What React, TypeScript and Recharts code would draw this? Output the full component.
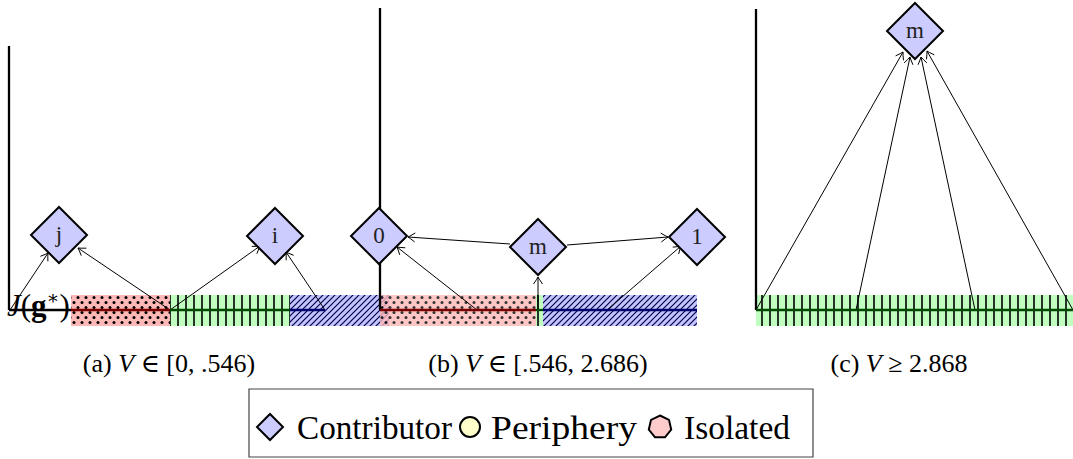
import React from 'react';
import { ComposedChart, XAxis, YAxis, Scatter, ReferenceArea, ReferenceLine } from 'recharts';

const W = 1073;
const H = 459;
const SERIF = '"Liberation Serif", "DejaVu Serif", serif';

// Diagram coordinate space (x: 0..1073, y: 0..459 downwards)
const stripTop = 295;
const stripBottom = 326;

const stripBands = [
  { id: 'a-hatch', x1: 290, x2: 389, pattern: 'hatch', opacity: 1 },
  { id: 'a-dots', x1: 71, x2: 170, pattern: 'dots', opacity: 1 },
  { id: 'a-vlines', x1: 170, x2: 290, pattern: 'vlines', opacity: 1 },
  { id: 'b-dots', x1: 380, x2: 536, pattern: 'dots', opacity: 0.8 },
  { id: 'b-vlines', x1: 536, x2: 543, pattern: 'vlines', opacity: 1 },
  { id: 'b-hatch', x1: 543, x2: 697, pattern: 'hatch', opacity: 1 },
  { id: 'c-vlines', x1: 756, x2: 1073, pattern: 'vlines', opacity: 1 },
];

const axisSegments = [
  { x1: 9, y1: 46, x2: 9, y2: 310, color: '#000000' },
  { x1: 9, y1: 310, x2: 71, y2: 310, color: '#000000' },
  { x1: 71, y1: 310, x2: 170, y2: 310, color: '#7a0000' },
  { x1: 170, y1: 310, x2: 290, y2: 310, color: '#004a00' },
  { x1: 290, y1: 310, x2: 325, y2: 310, color: '#00006e' },
  { x1: 380, y1: 8, x2: 380, y2: 310, color: '#000000' },
  { x1: 380, y1: 310, x2: 536, y2: 310, color: '#7a0000' },
  { x1: 536, y1: 310, x2: 543, y2: 310, color: '#004a00' },
  { x1: 543, y1: 310, x2: 697, y2: 310, color: '#00006e' },
  { x1: 756, y1: 9, x2: 756, y2: 310, color: '#000000' },
  { x1: 756, y1: 310, x2: 1073, y2: 310, color: '#004a00' },
];

const arrows = [
  { x1: 10, y1: 310, x2: 48, y2: 253 },
  { x1: 170, y1: 310, x2: 78, y2: 248 },
  { x1: 170, y1: 310, x2: 260, y2: 246 },
  { x1: 325, y1: 310, x2: 286, y2: 252 },
  { x1: 510, y1: 244, x2: 408, y2: 237 },
  { x1: 567, y1: 245, x2: 668, y2: 237 },
  { x1: 477, y1: 310, x2: 397, y2: 247 },
  { x1: 538, y1: 310, x2: 538, y2: 277 },
  { x1: 607, y1: 310, x2: 681, y2: 246 },
  { x1: 756, y1: 310, x2: 903, y2: 52 },
  { x1: 856, y1: 310, x2: 910, y2: 57 },
  { x1: 975, y1: 310, x2: 921, y2: 57 },
  { x1: 1073, y1: 310, x2: 927, y2: 51 },
];

const nodes = [
  { x: 59, y: 235, label: 'j' },
  { x: 275, y: 236, label: 'i' },
  { x: 379, y: 236, label: '0' },
  { x: 538, y: 247, label: 'm' },
  { x: 697, y: 237, label: '1' },
  { x: 915, y: 31, label: 'm' },
];

const captions = [
  { x: 169, y: 372, pre: '(a) ', v: 'V', post: ' ∈ [0, .546)' },
  { x: 538, y: 372, pre: '(b) ', v: 'V', post: ' ∈ [.546, 2.686)' },
  { x: 899, y: 372, pre: '(c) ', v: 'V', post: ' ≥ 2.868' },
];

const axisLabel = [{ x: 7, y: 316 }];

const legendBox = { x1: 249, x2: 813, y1: 389, y2: 457 };
const legendItems = [
  { x: 270, y: 427, marker: 'diamond', fill: '#ccccff', text: 'Contributor', tx: 297, tw: 155 },
  { x: 470, y: 427, marker: 'circle', fill: '#ffffcc', text: 'Periphery', tx: 491, tw: 146 },
  { x: 660, y: 427, marker: 'heptagon', fill: '#ffcccc', text: 'Isolated', tx: 684, tw: 106 },
];

const ArrowShape = (p: any) => {
  const { x1, y1, x2, y2 } = p;
  const dx = x2 - x1;
  const dy = y2 - y1;
  const len = Math.sqrt(dx * dx + dy * dy) || 1;
  const ux = dx / len;
  const uy = dy / len;
  const nx = -uy;
  const ny = ux;
  const back = 7;
  const half = 4.5;
  const b1x = x2 - ux * back + nx * half;
  const b1y = y2 - uy * back + ny * half;
  const b2x = x2 - ux * back - nx * half;
  const b2y = y2 - uy * back - ny * half;
  const c1x = x2 - ux * 2 + nx * 1;
  const c1y = y2 - uy * 2 + ny * 1;
  const c2x = x2 - ux * 2 - nx * 1;
  const c2y = y2 - uy * 2 - ny * 1;
  return (
    <g>
      <line x1={x1} y1={y1} x2={x2} y2={y2} stroke="#000" strokeWidth={1} />
      <path
        d={`M${b1x},${b1y} Q${c1x},${c1y} ${x2},${y2} Q${c2x},${c2y} ${b2x},${b2y}`}
        fill="none"
        stroke="#000"
        strokeWidth={1}
      />
    </g>
  );
};

const AxisShape = (p: any) => (
  <line x1={p.x1} y1={p.y1} x2={p.x2} y2={p.y2} stroke={p.stroke} strokeWidth={2.3} />
);

const NodeShape = (p: any) => {
  const { cx, cy, payload } = p;
  const r = 28;
  return (
    <g>
      <polygon
        points={`${cx},${cy - r} ${cx + r},${cy} ${cx},${cy + r} ${cx - r},${cy}`}
        fill="#ccccff"
        stroke="#000"
        strokeWidth={2}
        strokeLinejoin="miter"
      />
      <text x={cx} y={cy + 7} textAnchor="middle" fontFamily={SERIF} fontSize={23} fill="#222">
        {payload.label}
      </text>
    </g>
  );
};

const CaptionShape = (p: any) => {
  const { cx, cy, payload } = p;
  return (
    <text x={cx} y={cy} textAnchor="middle" fontFamily={SERIF} fontSize={26} fill="#000">
      {payload.pre}
      <tspan fontStyle="italic">{payload.v}</tspan>
      {payload.post}
    </text>
  );
};

const AxisLabelShape = (p: any) => {
  const { cx, cy } = p;
  return (
    <text x={cx} y={cy} fontFamily={SERIF} fontSize={31} fill="#000">
      <tspan fontStyle="italic">J</tspan>
      <tspan>(</tspan>
      <tspan fontWeight="bold">g</tspan>
      <tspan dy={-12} fontSize={19}>∗</tspan>
      <tspan dy={12}>)</tspan>
    </text>
  );
};

const LegendShape = (p: any) => {
  const { cx, cy, payload } = p;
  let marker: React.ReactNode = null;
  if (payload.marker === 'diamond') {
    const r = 13;
    marker = (
      <polygon
        points={`${cx},${cy - r} ${cx + r},${cy} ${cx},${cy + r} ${cx - r},${cy}`}
        fill={payload.fill}
        stroke="#000"
        strokeWidth={2}
      />
    );
  } else if (payload.marker === 'circle') {
    marker = <circle cx={cx} cy={cy} r={10} fill={payload.fill} stroke="#000" strokeWidth={2} />;
  } else {
    const r = 11.5;
    const pts: string[] = [];
    for (let k = 0; k < 7; k++) {
      const a = -Math.PI / 2 + (k * 2 * Math.PI) / 7;
      pts.push(`${cx + r * Math.cos(a)},${cy + r * Math.sin(a)}`);
    }
    marker = <polygon points={pts.join(' ')} fill={payload.fill} stroke="#000" strokeWidth={2} />;
  }
  return (
    <g>
      {marker}
      <text
        x={payload.tx}
        y={cy + 12}
        fontFamily={SERIF}
        fontSize={34}
        fill="#000"
        textLength={payload.tw}
        lengthAdjust="spacingAndGlyphs"
      >
        {payload.text}
      </text>
    </g>
  );
};

export default function App() {
  return (
    <div style={{ position: 'absolute', left: 0, top: 0, width: W, height: H, background: '#fff' }}>
      <ComposedChart width={W} height={H} margin={{ top: 0, right: 0, bottom: 0, left: 0 }}>
        <defs>
          <pattern id="dots" width={8} height={10} patternUnits="userSpaceOnUse">
            <rect width={8} height={10} fill="#ffb8b8" />
            <circle cx={2} cy={2.5} r={1.5} fill="#000" />
            <circle cx={6} cy={7.5} r={1.5} fill="#000" />
          </pattern>
          <pattern id="vlines" width={8} height={10} patternUnits="userSpaceOnUse">
            <rect width={8} height={10} fill="#c0ffc0" />
            <line x1={2} y1={0} x2={2} y2={10} stroke="#000" strokeWidth={1.6} />
          </pattern>
          <pattern id="hatch" width={6} height={6} patternUnits="userSpaceOnUse">
            <rect width={6} height={6} fill="#c4c4ff" />
            <path d="M0,6 L6,0 M-1,1 L1,-1 M5,7 L7,5" stroke="#00004a" strokeWidth={1.2} />
          </pattern>
        </defs>
        <XAxis type="number" dataKey="x" domain={[0, W]} hide allowDataOverflow />
        <YAxis type="number" dataKey="y" domain={[0, H]} reversed hide allowDataOverflow />

        {stripBands.map((s) => (
          <ReferenceArea
            key={s.id}
            x1={s.x1}
            x2={s.x2}
            y1={stripTop}
            y2={stripBottom}
            fill={`url(#${s.pattern})`}
            fillOpacity={s.opacity}
            stroke="none"
            ifOverflow="visible"
          />
        ))}

        <ReferenceArea
          x1={legendBox.x1}
          x2={legendBox.x2}
          y1={legendBox.y1}
          y2={legendBox.y2}
          fill="#ffffff"
          fillOpacity={1}
          stroke="#444"
          strokeWidth={1.2}
          ifOverflow="visible"
        />

        {arrows.map((a, i) => (
          <ReferenceLine
            key={`ar${i}`}
            segment={[
              { x: a.x1, y: a.y1 },
              { x: a.x2, y: a.y2 },
            ]}
            ifOverflow="visible"
            shape={ArrowShape}
          />
        ))}

        {axisSegments.map((s, i) => (
          <ReferenceLine
            key={`ax${i}`}
            segment={[
              { x: s.x1, y: s.y1 },
              { x: s.x2, y: s.y2 },
            ]}
            stroke={s.color}
            ifOverflow="visible"
            shape={AxisShape}
          />
        ))}

        <Scatter data={nodes} shape={NodeShape} isAnimationActive={false} />
        <Scatter data={captions} shape={CaptionShape} isAnimationActive={false} />
        <Scatter data={axisLabel} shape={AxisLabelShape} isAnimationActive={false} />
        <Scatter data={legendItems} shape={LegendShape} isAnimationActive={false} />
      </ComposedChart>
    </div>
  );
}
